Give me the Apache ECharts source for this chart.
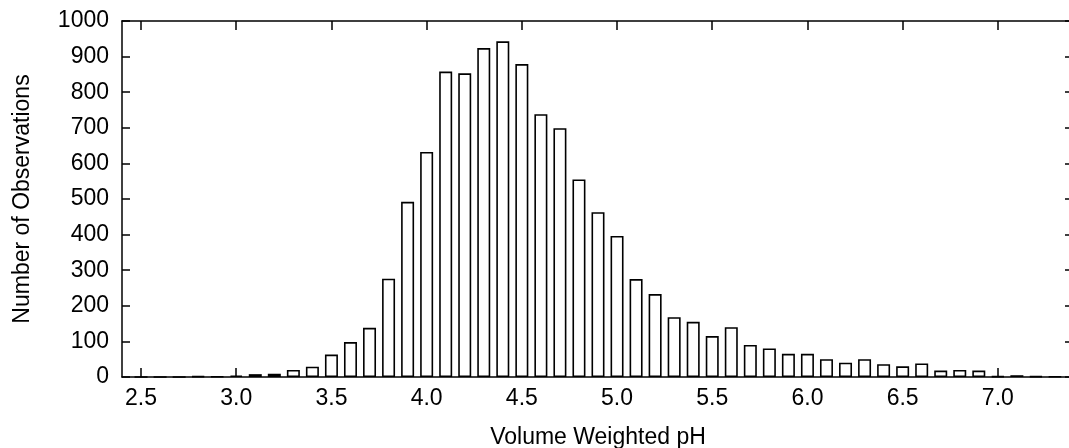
<!DOCTYPE html>
<html>
<head>
<meta charset="utf-8">
<script src="https://cdn.jsdelivr.net/npm/echarts@6/dist/echarts.min.js"></script>
<style>
html,body{margin:0;padding:0;background:#fff;}
#chart{width:1069px;height:448px;}
</style>
</head>
<body>
<div id="chart"></div>
<script>
// pH bin centres (0.1 wide bins)
var phBins = [2.5, 2.6, 2.7, 2.8, 2.9, 3.0, 3.1, 3.2, 3.3, 3.4,
              3.5, 3.6, 3.7, 3.8, 3.9, 4.0, 4.1, 4.2, 4.3, 4.4,
              4.5, 4.6, 4.7, 4.8, 4.9, 5.0, 5.1, 5.2, 5.3, 5.4,
              5.5, 5.6, 5.7, 5.8, 5.9, 6.0, 6.1, 6.2, 6.3, 6.4,
              6.5, 6.6, 6.7, 6.8, 6.9, 7.0, 7.1, 7.2, 7.3];
// number of observations per bin
var counts = [0, 0, 0, 2, 1, 4, 8, 9, 20, 29,
              63, 98, 138, 276, 492, 632, 858, 853, 924, 943,
              879, 738, 699, 555, 463, 396, 275, 233, 168, 155,
              115, 140, 90, 80, 65, 65, 50, 40, 50, 36,
              30, 38, 18, 20, 18, 2, 5, 2, 1];
// x-axis tick labels
var xTicks = [2.5, 3.0, 3.5, 4.0, 4.5, 5.0, 5.5, 6.0, 6.5, 7.0];

var FONT = '"Liberation Sans", Arial, sans-serif';
var FS = 23;
var chart = echarts.init(document.getElementById('chart'), null, {renderer: 'canvas'});
var lineStyle = {color: '#000', width: 1.5};

var option = {
  animation: false,
  backgroundColor: '#fff',
  grid: {left: 122, top: 21, width: 952, bottom: 71, containLabel: false, outerBoundsMode: 'none'},
  xAxis: [
    {
      type: 'value', position: 'bottom', min: 2.4, max: 7.4,
      axisLine: {show: true, onZero: false, lineStyle: lineStyle},
      axisTick: {show: true, inside: true, length: 9, customValues: xTicks, lineStyle: lineStyle},
      axisLabel: {show: true, customValues: xTicks, margin: 10, color: '#000', fontSize: FS, fontFamily: FONT,
                  formatter: function (v) { return Number(v).toFixed(1); }},
      splitLine: {show: false},
      name: 'Volume Weighted pH', nameLocation: 'middle', nameGap: 49,
      nameTextStyle: {color: '#000', fontSize: FS, fontFamily: FONT}
    },
    {
      type: 'value', position: 'top', min: 2.4, max: 7.4,
      axisLine: {show: true, onZero: false, lineStyle: lineStyle},
      axisTick: {show: true, inside: true, length: 9, customValues: xTicks, lineStyle: lineStyle},
      axisLabel: {show: false},
      splitLine: {show: false}
    }
  ],
  yAxis: [
    {
      type: 'value', position: 'left', min: 0, max: 1000, interval: 100,
      axisLine: {show: true, lineStyle: lineStyle},
      axisTick: {show: true, inside: true, length: 8, lineStyle: lineStyle},
      axisLabel: {margin: 13, color: '#000', fontSize: FS, fontFamily: FONT,
                  formatter: function (v) { return String(v); }},
      splitLine: {show: false},
      name: 'Number of Observations', nameLocation: 'middle', nameGap: 88, nameRotate: 90,
      nameTextStyle: {color: '#000', fontSize: FS, fontFamily: FONT}
    },
    {
      type: 'value', position: 'right', min: 0, max: 1000, interval: 100,
      axisLine: {show: true, lineStyle: lineStyle},
      axisTick: {show: true, inside: true, length: 9, lineStyle: {color: '#000', width: 1.5}},
      axisLabel: {show: false},
      splitLine: {show: false}
    }
  ],
  series: [{
    type: 'bar',
    xAxisIndex: 0, yAxisIndex: 0,
    barWidth: 13,
    data: phBins.map(function (x, i) { return [x, counts[i]]; }),
    itemStyle: {color: '#fff', borderColor: '#000', borderWidth: 1.6}
  }]
};
chart.setOption(option);
</script>
</body>
</html>
